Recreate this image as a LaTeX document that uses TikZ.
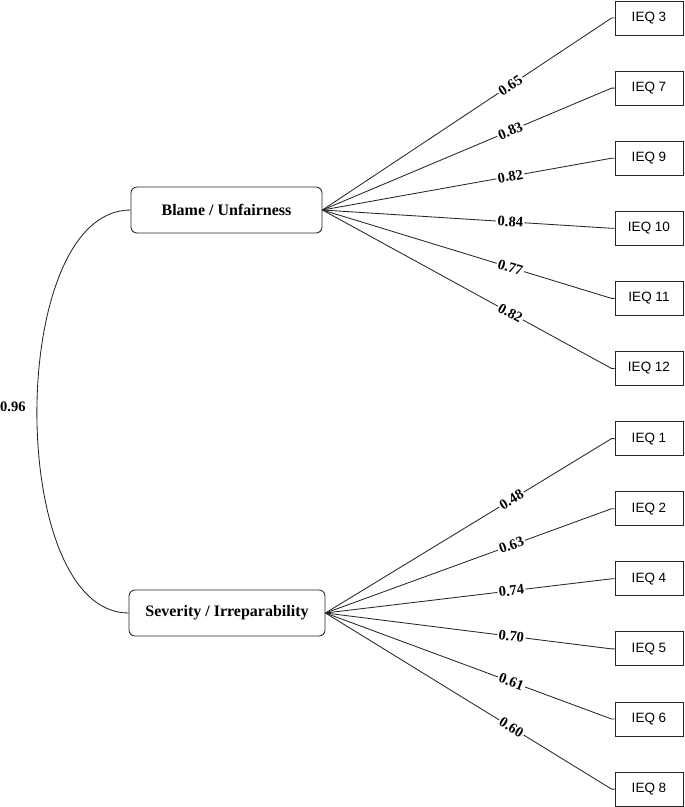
\documentclass[tikz,border=0pt]{standalone}
\usepackage{fontspec}
\setmainfont{Liberation Serif}
\newfontfamily\arialf{Liberation Sans}
\begin{document}
\begin{tikzpicture}[x=1pt,y=-1pt,
  ln/.style={draw=black!85, line width=0.85pt},
  latent/.style={ln, rounded corners=6pt, minimum height=46pt, font=\fontsize{16}{19}\selectfont\bfseries, inner sep=0pt},
  obsbox/.style={ln, minimum width=68pt, minimum height=34pt, font=\arialf\fontsize{13.5}{16}\selectfont, inner sep=0pt},
  ld/.style={pos=0.65, sloped, fill=white, inner sep=1.5pt, font=\fontsize{14.5}{16}\selectfont\bfseries}
]
\useasboundingbox (0,0) rectangle (685,807);
\node[latent, minimum width=191pt] (blame) at (226.5,210) {Blame / Unfairness};
\node[latent, minimum width=196pt] (sev) at (227,613) {Severity / Irreparability};
\foreach \n/\lab/\i in {q3/IEQ 3/0, q7/IEQ 7/1, q9/IEQ 9/2, q10/IEQ 10/3, q11/IEQ 11/4, q12/IEQ 12/5, q1/IEQ 1/6, q2/IEQ 2/7, q4/IEQ 4/8, q5/IEQ 5/9, q6/IEQ 6/10, q8/IEQ 8/11}{
  \node[obsbox] (\n) at (649,18+70.1*\i) {\lab};
  \coordinate (\n s) at ([xshift=-3pt]\n.west);
}
\foreach \n/\v in {q3/0.65, q7/0.83, q9/0.82, q10/0.84, q11/0.77, q12/0.82}{
  \draw[ln] (blame.east) -- node[ld]{\v} (\n s) -- (\n.west);
}
\foreach \n/\v in {q1/0.48, q2/0.63, q4/0.74, q5/0.70, q6/0.61, q8/0.60}{
  \draw[ln] (sev.east) -- node[ld]{\v} (\n s) -- (\n.west);
}
\draw[ln] (blame.west) .. controls (6,210) and (6,613) .. (sev.west);
\node[font=\fontsize{14.5}{16}\selectfont\bfseries, inner sep=0pt, anchor=west] (cor) at (0,407) {0.96};
\end{tikzpicture}
\end{document}
